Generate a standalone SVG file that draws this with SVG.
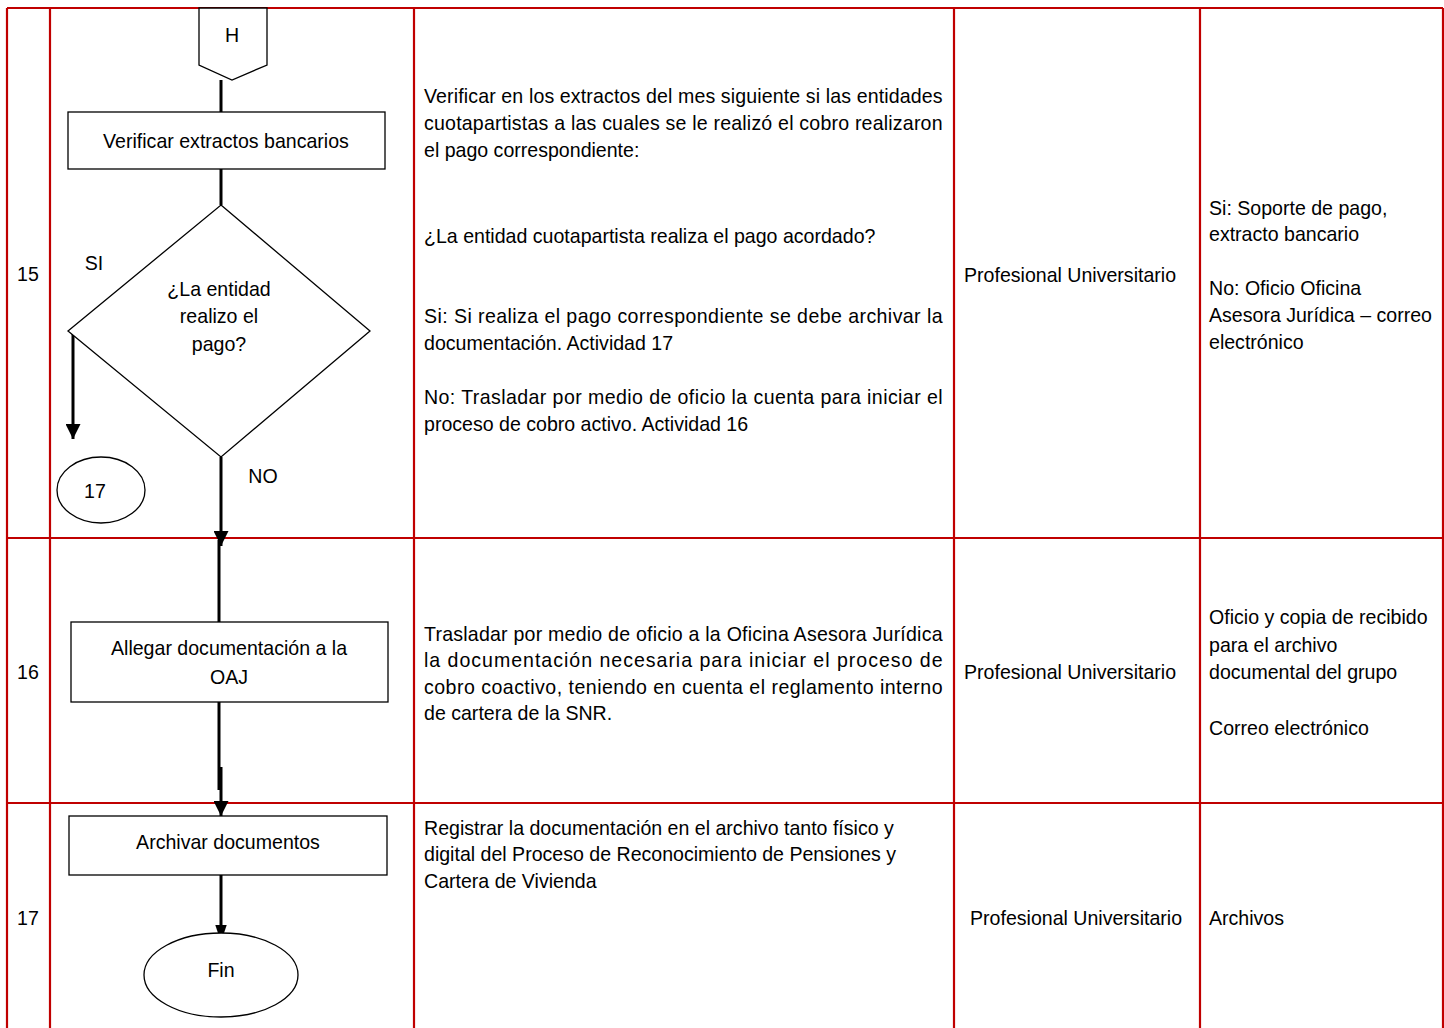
<svg xmlns="http://www.w3.org/2000/svg" width="1444" height="1028" viewBox="0 0 1444 1028">
<style>
.grid{stroke:#C00000;stroke-width:2.2;fill:none}
.shape{fill:#fff;stroke:#000;stroke-width:1.3}
.conn{stroke:#000;stroke-width:3;fill:none}
text{font-family:"Liberation Sans",Arial,sans-serif;font-size:20.5px;fill:#000}
.c{text-anchor:middle}
</style>
<defs>
<marker id="arr" markerWidth="5" markerHeight="5" refX="5" refY="2.5" orient="auto" markerUnits="strokeWidth">
<path d="M0,0 L5,2.5 L0,5 Z" fill="#000"/>
</marker>
<marker id="arr2" markerWidth="3" markerHeight="5" refX="3" refY="2.5" orient="auto" markerUnits="strokeWidth">
<path d="M0,0.6 L3,1.6 L3,3.4 L0,4.4 Z" fill="#000"/>
</marker>
</defs>
<rect width="1444" height="1028" fill="#fff"/>
<g id="table">
<line class="grid" x1="7" y1="8" x2="1443" y2="8"/>
<line class="grid" x1="7" y1="538" x2="1443" y2="538"/>
<line class="grid" x1="7" y1="803" x2="1443" y2="803"/>
<line class="grid" x1="7" y1="8" x2="7" y2="1028"/>
<line class="grid" x1="50" y1="8" x2="50" y2="1028"/>
<line class="grid" x1="414" y1="8" x2="414" y2="1028"/>
<line class="grid" x1="954" y1="8" x2="954" y2="1028"/>
<line class="grid" x1="1200" y1="8" x2="1200" y2="1028"/>
<line class="grid" x1="1443" y1="8" x2="1443" y2="1028"/>
</g>
<g id="row-numbers">
<text transform="translate(28,281) scale(0.955,1)" class="c">15</text>
<text transform="translate(28,679) scale(0.955,1)" class="c">16</text>
<text transform="translate(28,925) scale(0.955,1)" class="c">17</text>
</g>
<g id="connectors">
<line class="conn" x1="221" y1="80" x2="221" y2="112"/>
<line class="conn" x1="221" y1="169" x2="221" y2="205"/>
<line class="conn" x1="73" y1="333" x2="73" y2="439" marker-end="url(#arr)"/>
<line class="conn" x1="221" y1="457" x2="221" y2="546" marker-end="url(#arr)"/>
<line class="conn" x1="219" y1="540" x2="219" y2="622"/>
<line class="conn" x1="219" y1="702" x2="219" y2="790"/>
<line class="conn" x1="221" y1="767" x2="221" y2="816" marker-end="url(#arr)"/>
<line class="conn" x1="221" y1="875" x2="221" y2="934" marker-end="url(#arr2)"/>
</g>
<g id="node-H">
<path class="shape" d="M199,8 L267,8 L267,65 L232,80 L199,65 Z"/>
<text transform="translate(232,42) scale(0.955,1)" class="c">H</text>
</g>
<g id="node-verificar">
<rect class="shape" x="68" y="112" width="317" height="57"/>
<text transform="translate(226,148) scale(0.955,1)" class="c">Verificar extractos bancarios</text>
</g>
<g id="node-decision">
<path class="shape" d="M221,205 L370,331 L221,457 L68,331 Z"/>
<text transform="translate(219,296) scale(0.955,1)" class="c">¿La entidad</text>
<text transform="translate(219,323) scale(0.955,1)" class="c">realizo el</text>
<text transform="translate(219,351) scale(0.955,1)" class="c">pago?</text>
</g>
<g id="label-si"><text transform="translate(94,270) scale(0.955,1)" class="c">SI</text></g>
<g id="label-no"><text transform="translate(263,483) scale(0.955,1)" class="c">NO</text></g>
<g id="node-17">
<ellipse class="shape" cx="101" cy="490" rx="44" ry="33"/>
<text transform="translate(95,498) scale(0.955,1)" class="c">17</text>
</g>
<g id="node-allegar">
<rect class="shape" x="71" y="622" width="317" height="80"/>
<text transform="translate(229,655) scale(0.955,1)" class="c">Allegar documentación a la</text>
<text transform="translate(229,684) scale(0.955,1)" class="c">OAJ</text>
</g>
<g id="node-archivar">
<rect class="shape" x="69" y="816" width="318" height="59"/>
<text transform="translate(228,849) scale(0.955,1)" class="c">Archivar documentos</text>
</g>
<g id="node-fin">
<ellipse class="shape" cx="221" cy="975" rx="77" ry="42"/>
<text transform="translate(221,977) scale(0.955,1)" class="c">Fin</text>
</g>
<g id="desc-15">
<text transform="translate(424,103) scale(0.955,1)" textLength="543" lengthAdjust="spacing">Verificar en los extractos del mes siguiente si las entidades</text>
<text transform="translate(424,130) scale(0.955,1)" textLength="543" lengthAdjust="spacing">cuotapartistas a las cuales se le realizó el cobro realizaron</text>
<text transform="translate(424,157) scale(0.955,1)">el pago correspondiente:</text>
<text transform="translate(424,243) scale(0.955,1)">¿La entidad cuotapartista realiza el pago acordado?</text>
<text transform="translate(424,323) scale(0.955,1)" textLength="543" lengthAdjust="spacing">Si: Si realiza el pago correspondiente se debe archivar la</text>
<text transform="translate(424,350) scale(0.955,1)">documentación. Actividad 17</text>
<text transform="translate(424,404) scale(0.955,1)" textLength="543" lengthAdjust="spacing">No: Trasladar por medio de oficio la cuenta para iniciar el</text>
<text transform="translate(424,431) scale(0.955,1)">proceso de cobro activo. Actividad 16</text>
</g>
<g id="desc-16">
<text transform="translate(424,641) scale(0.955,1)" textLength="543" lengthAdjust="spacing">Trasladar por medio de oficio a la Oficina Asesora Jurídica</text>
<text transform="translate(424,667) scale(0.955,1)" textLength="543" lengthAdjust="spacing">la documentación necesaria para iniciar el proceso de</text>
<text transform="translate(424,694) scale(0.955,1)" textLength="543" lengthAdjust="spacing">cobro coactivo, teniendo en cuenta el reglamento interno</text>
<text transform="translate(424,720) scale(0.955,1)">de cartera de la SNR.</text>
</g>
<g id="desc-17">
<text transform="translate(424,835) scale(0.955,1)">Registrar la documentación en el archivo tanto físico y</text>
<text transform="translate(424,861) scale(0.955,1)">digital del Proceso de Reconocimiento de Pensiones y</text>
<text transform="translate(424,888) scale(0.955,1)">Cartera de Vivienda</text>
</g>
<g id="resp">
<text transform="translate(964,282) scale(0.955,1)">Profesional Universitario</text>
<text transform="translate(964,679) scale(0.955,1)">Profesional Universitario</text>
<text transform="translate(970,925) scale(0.955,1)">Profesional Universitario</text>
</g>
<g id="registros">
<text transform="translate(1209,215) scale(0.955,1)">Si: Soporte de pago,</text>
<text transform="translate(1209,241) scale(0.955,1)">extracto bancario</text>
<text transform="translate(1209,295) scale(0.955,1)">No: Oficio Oficina</text>
<text transform="translate(1209,322) scale(0.955,1)">Asesora Jurídica – correo</text>
<text transform="translate(1209,349) scale(0.955,1)">electrónico</text>
<text transform="translate(1209,624) scale(0.955,1)">Oficio y copia de recibido</text>
<text transform="translate(1209,652) scale(0.955,1)">para el archivo</text>
<text transform="translate(1209,679) scale(0.955,1)">documental del grupo</text>
<text transform="translate(1209,735) scale(0.955,1)">Correo electrónico</text>
<text transform="translate(1209,925) scale(0.955,1)">Archivos</text>
</g>
</svg>
